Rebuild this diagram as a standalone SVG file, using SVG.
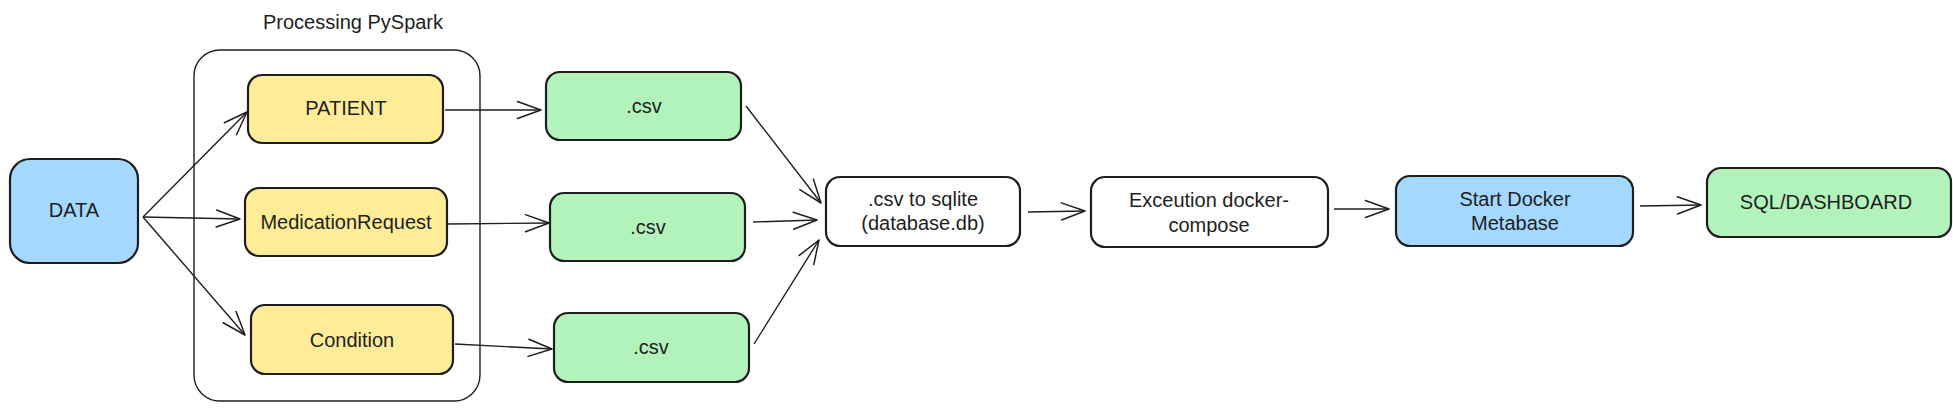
<svg xmlns="http://www.w3.org/2000/svg" width="1953" height="411" viewBox="0 0 1953 411">
<style>
.box{stroke:#1e1e1e;stroke-width:2.2}
.blue{fill:#a5d8ff}
.yellow{fill:#ffec99}
.green{fill:#b2f2bb}
.white{fill:#ffffff}
.grp{fill:none;stroke:#1e1e1e;stroke-width:1.4}
.lbl{font-family:"Liberation Sans",Arial,sans-serif;font-size:20px;fill:#1e1e1e;text-anchor:middle;dominant-baseline:central}
.conn line{stroke:#1e1e1e;stroke-width:1.4;fill:none;marker-end:url(#arr)}
</style>
<defs>
<marker id="arr" markerUnits="userSpaceOnUse" markerWidth="30" markerHeight="30" viewBox="-24 -12 28 24" refX="0" refY="0" orient="auto">
<path d="M-22,-8 L0,0 L-22,8" fill="none" stroke="#1e1e1e" stroke-width="1.4" stroke-linecap="round" stroke-linejoin="round"/>
</marker>
</defs>
<rect width="1953" height="411" fill="#ffffff"/>
<g id="group-pyspark">
<rect class="grp" x="194" y="50" width="286" height="351" rx="26"/>
<text class="lbl" x="353" y="22">Processing PySpark</text>
</g>
<g id="node-data">
<rect class="box blue" x="10" y="159" width="128" height="104" rx="20"/>
<text class="lbl" x="74" y="210">DATA</text>
</g>
<g id="node-patient">
<rect class="box yellow" x="248" y="75" width="195" height="68" rx="14"/>
<text class="lbl" x="346" y="108">PATIENT</text>
</g>
<g id="node-medreq">
<rect class="box yellow" x="245" y="188" width="202" height="68" rx="14"/>
<text class="lbl" x="346" y="222">MedicationRequest</text>
</g>
<g id="node-condition">
<rect class="box yellow" x="251" y="305" width="202" height="69" rx="14"/>
<text class="lbl" x="352" y="340">Condition</text>
</g>
<g id="node-csv1">
<rect class="box green" x="546" y="72" width="195" height="68" rx="14"/>
<text class="lbl" x="644" y="106">.csv</text>
</g>
<g id="node-csv2">
<rect class="box green" x="550" y="193" width="195" height="68" rx="14"/>
<text class="lbl" x="648" y="227">.csv</text>
</g>
<g id="node-csv3">
<rect class="box green" x="554" y="313" width="195" height="69" rx="14"/>
<text class="lbl" x="651" y="347">.csv</text>
</g>
<g id="node-sqlite">
<rect class="box white" x="826" y="177" width="194" height="69" rx="14"/>
<text class="lbl" x="923" y="199">.csv to sqlite</text>
<text class="lbl" x="923" y="223">(database.db)</text>
</g>
<g id="node-exec">
<rect class="box white" x="1091" y="177" width="237" height="70" rx="14"/>
<text class="lbl" x="1209" y="200">Exceution docker-</text>
<text class="lbl" x="1209" y="225">compose</text>
</g>
<g id="node-start">
<rect class="box blue" x="1396" y="176" width="237" height="70" rx="14"/>
<text class="lbl" x="1515" y="199">Start Docker</text>
<text class="lbl" x="1515" y="223">Metabase</text>
</g>
<g id="node-sql">
<rect class="box green" x="1707" y="168" width="244" height="69" rx="14"/>
<text class="lbl" x="1826" y="202">SQL/DASHBOARD</text>
</g>
<g id="connectors" class="conn">
<line x1="143" y1="217" x2="247" y2="112"/>
<line x1="143" y1="217" x2="240" y2="219"/>
<line x1="143" y1="217" x2="245" y2="335"/>
<line x1="445" y1="110" x2="541" y2="110"/>
<line x1="448" y1="224" x2="549" y2="223"/>
<line x1="455" y1="344" x2="552" y2="349"/>
<line x1="746" y1="106" x2="821" y2="203"/>
<line x1="753" y1="222" x2="817" y2="220"/>
<line x1="754" y1="344" x2="819" y2="240"/>
<line x1="1028" y1="212" x2="1085" y2="211"/>
<line x1="1334" y1="209" x2="1389" y2="209"/>
<line x1="1640" y1="206" x2="1701" y2="205"/>
</g>
</svg>
